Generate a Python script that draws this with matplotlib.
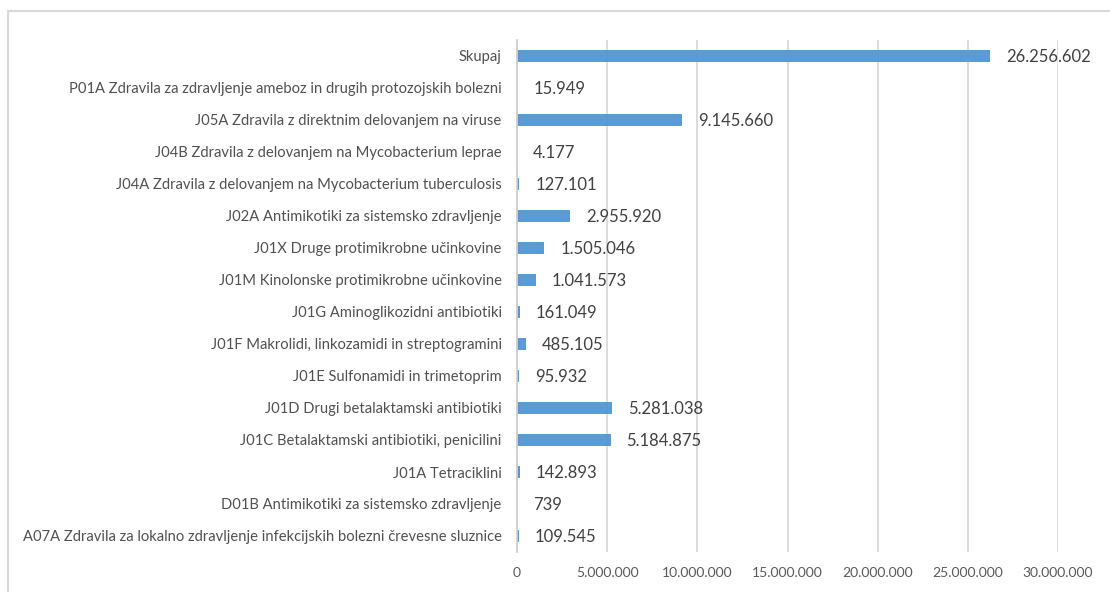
import matplotlib
matplotlib.use("Agg")
import matplotlib.pyplot as plt
from matplotlib.patches import Rectangle
import numpy as np

categories = [
    "Skupaj",
    "P01A Zdravila za zdravljenje ameboz in drugih protozojskih bolezni",
    "J05A Zdravila z direktnim delovanjem na viruse",
    "J04B Zdravila z delovanjem na Mycobacterium leprae",
    "J04A Zdravila z delovanjem na Mycobacterium tuberculosis",
    "J02A Antimikotiki za sistemsko zdravljenje",
    "J01X Druge protimikrobne učinkovine",
    "J01M Kinolonske protimikrobne učinkovine",
    "J01G Aminoglikozidni antibiotiki",
    "J01F Makrolidi, linkozamidi in streptogramini",
    "J01E Sulfonamidi in trimetoprim",
    "J01D Drugi betalaktamski antibiotiki",
    "J01C Betalaktamski antibiotiki, penicilini",
    "J01A Tetraciklini",
    "D01B Antimikotiki za sistemsko zdravljenje",
    "A07A Zdravila za lokalno zdravljenje infekcijskih bolezni črevesne sluznice",
]
values = [26256602, 15949, 9145660, 4177, 127101, 2955920, 1505046, 1041573,
          161049, 485105, 95932, 5281038, 5184875, 142893, 739, 109545]
x_ticks = [0, 5000000, 10000000, 15000000, 20000000, 25000000, 30000000]


def fmt(v):
    return f"{v:,}".replace(",", ".")


plt.rcParams['font.family'] = ['Lato', 'DejaVu Sans']

W, H = 1110, 592
fig = plt.figure(figsize=(W / 100, H / 100), dpi=100)
fig.patch.set_facecolor("white")

# outer chart border (partially cropped at right/bottom)
fig.patches.append(Rectangle((8 / W, -0.05), 1.2, 1 - 11 / H + 0.05,
                             transform=fig.transFigure, fill=False,
                             edgecolor="#d9d9d9", linewidth=1.5))

ax = fig.add_axes([517 / W, 1 - 552 / H, (1058 - 517) / W, (552 - 40) / H])
n = len(categories)
y = np.arange(n)
ax.barh(y, values, height=0.375, color="#5B9BD5", zorder=3)
ax.set_ylim(n - 0.5, -0.5)
ax.set_xlim(0, 30000000)

ax.set_yticks(y)
ax.set_yticklabels(categories, fontsize=10.6, color="#505050")
ax.set_xticks(x_ticks)
ax.set_xticklabels([fmt(t) for t in x_ticks], fontsize=10, color="#595959")
ax.tick_params(axis="y", length=0, pad=11)
ax.tick_params(axis="x", length=0, pad=11)

ax.grid(axis="x", color="#d9d9d9", linewidth=1.3, zorder=0)
for s in ["top", "right", "bottom"]:
    ax.spines[s].set_visible(False)
ax.spines["left"].set_color("#d0d0d0")
ax.spines["left"].set_linewidth(1.3)
ax.spines["left"].set_zorder(4)

for yi, v in zip(y, values):
    ax.annotate(fmt(v), (v, yi), xytext=(11.5, -1), textcoords="offset points",
                va="center", ha="left", fontsize=12, color="#404040",
                annotation_clip=False)

fig.savefig("out.png", dpi=100, facecolor="white")
